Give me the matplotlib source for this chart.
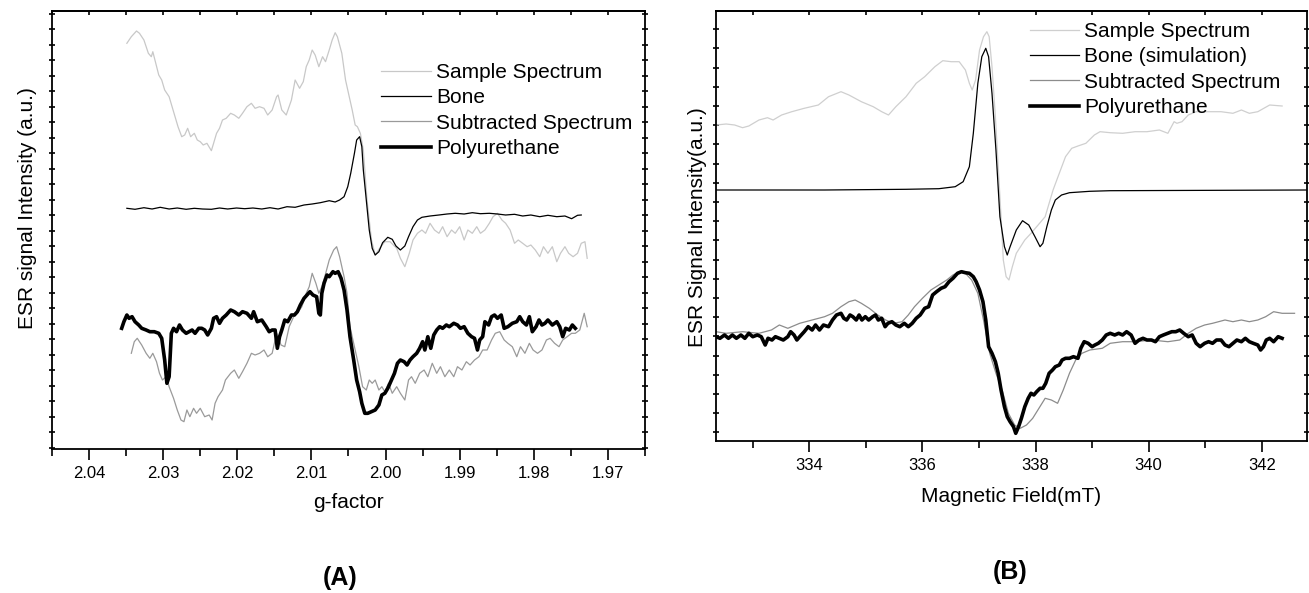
import matplotlib
matplotlib.use("Agg")
import matplotlib.pyplot as plt
from matplotlib.ticker import MultipleLocator, NullFormatter

plt.rcParams['font.family'] = ['Liberation Sans', 'DejaVu Sans']

# ---------------- Panel A : g-factor axis ----------------
g_sample = [2.0349, 2.0343, 2.0336, 2.0332, 2.0326, 2.0320, 2.0316, 2.0314, 2.0310, 2.0306,
            2.0302, 2.0298, 2.0292, 2.0288, 2.0284, 2.0280, 2.0275, 2.0271, 2.0267, 2.0263,
            2.0258, 2.0254, 2.0250, 2.0246, 2.0241, 2.0235, 2.0232, 2.0228, 2.0224, 2.0220,
            2.0215, 2.0209, 2.0204, 2.0198, 2.0193, 2.0187, 2.0181, 2.0176, 2.0170, 2.0164,
            2.0159, 2.0153, 2.0147, 2.0145, 2.0140, 2.0134, 2.0127, 2.0122, 2.0116, 2.0111,
            2.0107, 2.0103, 2.0099, 2.0095, 2.0090, 2.0085, 2.0081, 2.0076, 2.0072, 2.0068,
            2.0065, 2.0059, 2.0054, 2.0049, 2.0045, 2.0041, 2.0038, 2.0034, 2.0030, 2.0025,
            2.0019, 2.0014, 2.0008, 2.0001, 1.9994, 1.9985, 1.9980, 1.9974, 1.9968, 1.9963,
            1.9957, 1.9951, 1.9946, 1.9940, 1.9934, 1.9928, 1.9923, 1.9917, 1.9911, 1.9906,
            1.9900, 1.9894, 1.9889, 1.9883, 1.9877, 1.9872, 1.9866, 1.9860, 1.9855, 1.9849,
            1.9843, 1.9838, 1.9832, 1.9826, 1.9821, 1.9815, 1.9809, 1.9804, 1.9798, 1.9792,
            1.9787, 1.9781, 1.9775, 1.9769, 1.9764, 1.9758, 1.9753, 1.9747, 1.9741, 1.9736,
            1.9731, 1.9728]
i_sample = [405.7, 412.3, 418, 415.7, 409, 395.7, 392.3, 397.3, 385.7, 374,
            369, 359, 352.3, 342.3, 332.3, 322.3, 312.3, 314, 320.7, 312.3,
            315.7, 309, 307.3, 304, 305.7, 298.3, 305.7, 315.7, 320.7, 329,
            330.7, 335.7, 334, 330.7, 335.7, 342.3, 345.7, 340.7, 342.3, 340.7,
            334, 339, 352.3, 354, 339, 334, 349, 369, 360.7, 367.3,
            382.3, 389, 399, 394, 382.3, 392.3, 387.3, 399, 409, 416.3,
            412.3, 395.7, 369, 352.3, 339, 324, 322.3, 315.7, 299, 249,
            209, 194, 200.7, 207.3, 207.3, 200.7, 190.7, 182.3, 195.7, 209,
            215.7, 219, 215.7, 225.7, 219, 215.7, 222.3, 212.3, 219, 215.7,
            222.3, 209, 219, 215.7, 222.3, 215.7, 219, 225.7, 232.3, 235.7,
            229, 225.7, 219, 205.7, 209, 205.7, 202.3, 204, 199, 192.3,
            202.3, 195.7, 202.3, 187.3, 195.7, 202.3, 195.7, 192.3, 195.7, 205.7,
            207.3, 190.7]

g_bone = [2.0349, 2.0338, 2.0326, 2.0315, 2.0304, 2.0292, 2.0281, 2.0269, 2.0258, 2.0247,
          2.0235, 2.0224, 2.0213, 2.0201, 2.0190, 2.0179, 2.0167, 2.0156, 2.0145, 2.0133,
          2.0122, 2.0110, 2.0099, 2.0088, 2.0076, 2.0068, 2.0062, 2.0056, 2.0051, 2.0047,
          2.0042, 2.0039, 2.0035, 2.0032, 2.0030, 2.0026, 2.0022, 2.0018, 2.0014, 2.0009,
          2.0004, 1.9997, 1.9991, 1.9986, 1.9980, 1.9974, 1.9969, 1.9963, 1.9957, 1.9951,
          1.9940, 1.9928, 1.9917, 1.9906, 1.9894, 1.9883, 1.9872, 1.9860, 1.9849, 1.9838,
          1.9826, 1.9815, 1.9804, 1.9792, 1.9781, 1.9769, 1.9758, 1.9749, 1.9741, 1.9736]
i_bone = [240.7, 239.7, 241.3, 240, 241.7, 240, 241, 239.7, 240.7, 240,
          239.7, 241, 240, 241, 240.3, 241, 240, 241.3, 240, 242.3,
          241.7, 244, 245, 246.3, 248.3, 247, 249, 252.3, 262.3, 275.7,
          295.7, 309, 312.3, 302.3, 279, 249, 219, 200.7, 194, 197.3,
          206.3, 211.7, 209.7, 203, 199, 203, 212.3, 222.3, 229, 231.7,
          233, 234, 235, 235.7, 235, 236.3, 235.3, 235.7, 235, 234,
          234.7, 233, 234, 232.3, 233.7, 232.3, 233, 230.3, 233.7, 234]

g_subtr = [2.0343, 2.0339, 2.0335, 2.0329, 2.0323, 2.0318, 2.0314, 2.0309, 2.0305, 2.0301,
           2.0296, 2.0292, 2.0286, 2.0281, 2.0276, 2.0272, 2.0268, 2.0264, 2.0259, 2.0255,
           2.0250, 2.0244, 2.0238, 2.0234, 2.0230, 2.0226, 2.0220, 2.0216, 2.0209, 2.0204,
           2.0198, 2.0193, 2.0187, 2.0181, 2.0176, 2.0170, 2.0164, 2.0159, 2.0153, 2.0147,
           2.0141, 2.0136, 2.0130, 2.0124, 2.0119, 2.0113, 2.0107, 2.0103, 2.0099, 2.0094,
           2.0090, 2.0086, 2.0082, 2.0076, 2.0070, 2.0066, 2.0062, 2.0056, 2.0052, 2.0048,
           2.0042, 2.0036, 2.0031, 2.0026, 2.0022, 2.0018, 2.0014, 2.0009, 2.0005, 2.0001,
           1.9996, 1.9991, 1.9985, 1.9980, 1.9974, 1.9969, 1.9965, 1.9960, 1.9954, 1.9948,
           1.9943, 1.9937, 1.9931, 1.9926, 1.9920, 1.9914, 1.9908, 1.9903, 1.9897, 1.9891,
           1.9886, 1.9880, 1.9874, 1.9869, 1.9863, 1.9857, 1.9852, 1.9846, 1.9840, 1.9835,
           1.9829, 1.9823, 1.9818, 1.9812, 1.9806, 1.9801, 1.9795, 1.9789, 1.9783, 1.9778,
           1.9772, 1.9766, 1.9761, 1.9755, 1.9749, 1.9744, 1.9738, 1.9732, 1.9728]
i_subtr = [95.7, 107.3, 110.7, 104, 95.7, 90.7, 95.7, 87.3, 75.7, 69,
           72.3, 62.3, 50.7, 39, 29, 27.3, 39, 32.3, 40.7, 35.7,
           40.7, 32.3, 34, 29, 45.7, 52.3, 59, 69, 75.7, 79,
           70.7, 77.3, 85.7, 95.7, 94, 95.7, 99, 92.3, 95.7, 115.7,
           104, 102.3, 122.3, 132.3, 135.7, 142.3, 155.7, 162.3, 175.7, 165.7,
           155.7, 162.3, 172.3, 189, 199, 202.3, 192.3, 172.3, 155.7, 122.3,
           102.3, 82.3, 62.3, 59, 69, 65.7, 69, 59, 62.3, 57.3,
           65.7, 55.7, 62.3, 55.7, 49, 69, 72.3, 65.7, 75.7, 79,
           72.3, 85.7, 75.7, 82.3, 72.3, 79, 72.3, 82.3, 79, 87.3,
           84, 89, 92.3, 99, 99, 109, 115.7, 117.3, 109, 105.7,
           102.3, 92.3, 102.3, 95.7, 105.7, 99, 95.7, 99, 109, 110.7,
           105.7, 102.3, 109, 112.3, 115.7, 115.7, 119, 135.7, 122.3]

g_poly = [2.0356, 2.0353, 2.0349, 2.0346, 2.0342, 2.0338, 2.0333, 2.0329, 2.0323, 2.0318,
          2.0312, 2.0306, 2.0302, 2.0298, 2.0295, 2.0292, 2.0289, 2.0286, 2.0282, 2.0278,
          2.0274, 2.0269, 2.0265, 2.0261, 2.0257, 2.0252, 2.0248, 2.0244, 2.0240, 2.0235,
          2.0232, 2.0228, 2.0224, 2.0220, 2.0215, 2.0209, 2.0204, 2.0198, 2.0193, 2.0187,
          2.0181, 2.0178, 2.0173, 2.0167, 2.0161, 2.0157, 2.0153, 2.0149, 2.0146, 2.0143,
          2.0140, 2.0136, 2.0132, 2.0127, 2.0123, 2.0119, 2.0115, 2.0110, 2.0106, 2.0102,
          2.0098, 2.0093, 2.0090, 2.0088, 2.0086, 2.0083, 2.0079, 2.0076, 2.0071, 2.0068,
          2.0064, 2.0060, 2.0056, 2.0052, 2.0048, 2.0043, 2.0039, 2.0035, 2.0032, 2.0028,
          2.0024, 2.0019, 2.0014, 2.0009, 2.0005, 2.0001, 1.9997, 1.9992, 1.9988, 1.9984,
          1.9980, 1.9975, 1.9971, 1.9967, 1.9963, 1.9958, 1.9954, 1.9950, 1.9947, 1.9943,
          1.9939, 1.9935, 1.9931, 1.9927, 1.9923, 1.9918, 1.9914, 1.9908, 1.9903, 1.9899,
          1.9894, 1.9889, 1.9884, 1.9880, 1.9876, 1.9873, 1.9869, 1.9866, 1.9861, 1.9857,
          1.9853, 1.9849, 1.9844, 1.9840, 1.9835, 1.9829, 1.9823, 1.9819, 1.9815, 1.9810,
          1.9806, 1.9802, 1.9797, 1.9793, 1.9789, 1.9785, 1.9781, 1.9775, 1.9769, 1.9765,
          1.9761, 1.9757, 1.9752, 1.9748, 1.9744]
i_poly = [120.7, 127.3, 134, 130.7, 132.3, 127.3, 124, 120.7, 119, 117.3,
          117.3, 115.7, 110.7, 89, 65.7, 72.3, 115.7, 120.7, 117.3, 124,
          119, 115.7, 117.3, 119, 115.7, 120.7, 120.7, 119, 114, 120.7,
          130.7, 132.3, 125.7, 130.7, 134, 139, 137.3, 134, 137.3, 135.7,
          130.7, 137.3, 127.3, 129, 122.3, 117.3, 119, 119, 100.7, 112.3,
          119, 129, 127.3, 134, 134, 137.3, 144, 150.7, 154, 157.3,
          154, 152.3, 135.7, 134, 155.7, 165.7, 174, 172.3, 177.3, 175.7,
          177.3, 170.7, 159, 139, 112.3, 89, 69, 57.3, 45.7, 35.7,
          35.7, 37.3, 39, 44, 54, 55.7, 60.7, 69, 75.7, 85.7,
          89, 87.3, 84, 89, 92.3, 95.7, 100.7, 107.3, 99, 112.3,
          100.7, 114, 119, 122.3, 120.7, 124, 122.3, 125.7, 124, 120.7,
          122.3, 115.7, 112.3, 110.7, 99, 109, 112.3, 127.3, 124, 132.3,
          134, 130.7, 134, 120.7, 122.3, 125.7, 127.3, 132.3, 127.3, 124,
          132.3, 117.3, 122.3, 129, 124, 125.7, 129, 124, 127.3, 122.3,
          112.3, 120.7, 119, 124, 120.7]

# ---------------- Panel B : magnetic field axis ----------------
b_sample = [332.35, 332.53, 332.68, 332.82, 332.93, 333.11, 333.26, 333.36, 333.51, 333.69,
            333.91, 334.16, 334.34, 334.56, 334.70, 334.92, 335.13, 335.28, 335.40, 335.53,
            335.71, 335.89, 336.04, 336.22, 336.36, 336.51, 336.65, 336.76, 336.83, 336.88,
            336.94, 337.01, 337.08, 337.14, 337.18, 337.23, 337.29, 337.34, 337.39, 337.43,
            337.48, 337.53, 337.59, 337.66, 337.81, 337.92, 338.02, 338.17, 338.31, 338.42,
            338.53, 338.64, 338.75, 338.89, 339.04, 339.14, 339.32, 339.54, 339.76, 339.97,
            340.19, 340.34, 340.45, 340.50, 340.59, 340.70, 340.84, 341.06, 341.28, 341.49,
            341.64, 341.78, 341.93, 342.14, 342.36]
s_sample = [316, 317, 316, 313.3, 315, 321, 323.3, 321, 326, 329.3,
            332.7, 336, 344.3, 349.3, 346, 339.3, 334.3, 329.3, 326, 334.3,
            344.3, 357.7, 364.3, 374.3, 380.3, 379.3, 379.3, 371, 357.7, 351,
            361, 391, 404.3, 409.3, 404.3, 374.3, 324.3, 274.3, 224.3, 181,
            164.3, 161, 174.3, 187.7, 201, 207.7, 214.3, 224.3, 251, 267.7,
            284.3, 292.7, 295, 297.7, 306, 309.3, 308.3, 307.7, 309.3, 309.3,
            311, 307.7, 319.3, 317.7, 319.3, 326, 329.3, 329.3, 329.3, 327.7,
            331, 327.7, 329.3, 336, 335]

b_bone = [332.35, 334.27, 335.71, 336.29, 336.58, 336.72, 336.83, 336.90, 336.98, 337.05,
          337.12, 337.17, 337.23, 337.30, 337.37, 337.45, 337.50, 337.55, 337.66, 337.77,
          337.88, 337.99, 338.08, 338.13, 338.20, 338.28, 338.35, 338.46, 338.60, 338.96,
          339.32, 342.80]
s_bone = [251, 251, 251.7, 252.3, 254.3, 259.3, 274.3, 307.7, 357.7, 384.3,
          392.7, 384.3, 347.7, 291, 224.3, 194.3, 186, 194.3, 211, 220.3,
          216, 204.3, 194.3, 197.7, 214.3, 231, 241, 246, 248.3, 249.7,
          250.3, 251]

b_subtr = [332.35, 332.53, 332.82, 333.11, 333.33, 333.47, 333.62, 333.83, 334.05, 334.27,
           334.41, 334.56, 334.70, 334.81, 334.92, 335.06, 335.21, 335.35, 335.49, 335.64,
           335.75, 335.86, 336.00, 336.15, 336.29, 336.43, 336.54, 336.65, 336.76, 336.87,
           336.98, 337.08, 337.19, 337.30, 337.41, 337.52, 337.63, 337.73, 337.84, 337.95,
           338.06, 338.17, 338.28, 338.39, 338.49, 338.60, 338.71, 338.82, 338.96, 339.18,
           339.32, 339.54, 339.76, 340.05, 340.34, 340.55, 340.70, 340.84, 340.99, 341.13,
           341.35, 341.49, 341.64, 341.78, 341.93, 342.07, 342.21, 342.36, 342.58]
s_subtr = [109.3, 107.7, 109.3, 107.7, 111, 116, 112.7, 117.7, 121, 124.3,
           127.7, 134.3, 139.3, 141, 137.7, 132.7, 126, 121, 117.7, 119.3,
           126, 134.3, 142.7, 151, 156, 161, 166, 169.3, 167.7, 161,
           147.7, 121, 87.7, 67.7, 51, 27.7, 16, 12.7, 16, 22.7,
           32.7, 42.7, 41, 37.7, 51, 67.7, 81, 87.7, 91, 92.7,
           97.7, 99.3, 99.3, 101, 99.3, 101, 107.7, 112.7, 116, 117.7,
           121, 119.3, 121, 119.3, 121, 124.3, 129.3, 127.7, 127.7]

b_poly = [332.35, 332.42, 332.50, 332.57, 332.64, 332.71, 332.79, 332.86, 332.93, 333.00,
          333.08, 333.15, 333.22, 333.27, 333.34, 333.40, 333.47, 333.54, 333.62, 333.67,
          333.73, 333.78, 333.83, 333.91, 333.98, 334.05, 334.11, 334.18, 334.25, 334.34,
          334.41, 334.48, 334.56, 334.61, 334.66, 334.72, 334.77, 334.83, 334.88, 334.93,
          334.99, 335.05, 335.12, 335.17, 335.22, 335.28, 335.34, 335.39, 335.46, 335.53,
          335.60, 335.68, 335.75, 335.82, 335.89, 335.96, 336.04, 336.11, 336.18, 336.25,
          336.33, 336.40, 336.47, 336.54, 336.62, 336.69, 336.76, 336.83, 336.90, 336.95,
          337.01, 337.07, 337.12, 337.17, 337.23, 337.29, 337.34, 337.39, 337.45, 337.50,
          337.55, 337.61, 337.65, 337.70, 337.75, 337.81, 337.87, 337.92, 337.97, 338.02,
          338.08, 338.13, 338.18, 338.24, 338.30, 338.35, 338.42, 338.47, 338.53, 338.60,
          338.67, 338.75, 338.80, 338.86, 338.93, 339.00, 339.05, 339.11, 339.18, 339.25,
          339.32, 339.40, 339.47, 339.54, 339.61, 339.69, 339.76, 339.83, 339.90, 339.97,
          340.05, 340.12, 340.19, 340.26, 340.34, 340.41, 340.48, 340.55, 340.62, 340.70,
          340.77, 340.84, 340.91, 340.99, 341.06, 341.13, 341.20, 341.28, 341.35, 341.42,
          341.49, 341.56, 341.64, 341.71, 341.78, 341.85, 341.93, 341.98, 342.03, 342.08,
          342.14, 342.21, 342.29, 342.36]
s_poly = [104.3, 102.7, 106, 102.7, 106, 102.7, 106, 102.7, 107.7, 104.3,
          106, 104.3, 96, 102.7, 101, 104.3, 102.7, 101, 104.3, 109.3,
          106, 101, 104.3, 109.3, 114.3, 111, 116, 111, 116, 114.3,
          121, 126, 127.7, 122.7, 121, 126, 124.3, 121, 126, 121,
          124.3, 121, 124.3, 126, 121, 122.7, 114.3, 117.7, 119.3, 116,
          114.3, 117.7, 114.3, 117.7, 122.7, 126, 132.7, 134.3, 146, 149.3,
          152.7, 154.3, 159.3, 162.7, 167.7, 169.3, 168.3, 167.7, 164.3, 159.3,
          151, 139.3, 121, 94.3, 87.7, 79.3, 67.7, 51, 34.3, 24.3,
          19.3, 14.3, 7.7, 14.3, 22.7, 34.3, 42.7, 47.7, 46, 49.3,
          52.7, 52.7, 57.7, 67.7, 71, 74.3, 76, 81, 82.7, 82.7,
          84.3, 82.7, 92.7, 99.3, 97.7, 94.3, 96, 97.7, 101, 106,
          107.7, 106, 107.7, 106, 109.3, 106, 97.7, 101, 102.7, 101,
          101, 99.3, 104.3, 106, 107.7, 109.3, 109.3, 111, 107.7, 104.3,
          106, 97.7, 94.3, 97.7, 99.3, 97.7, 101, 101, 96, 94.3,
          97.7, 101, 99.3, 102.7, 99.3, 97.7, 96, 91, 94.3, 101,
          102.7, 99.3, 104.3, 102.7]

W, H = 1309, 593
fig = plt.figure(figsize=(W / 100, H / 100), dpi=100)

# axes boxes in pixels (left, top, right, bottom)
axA = fig.add_axes([52 / W, 1 - 449 / H, (645 - 52) / W, (449 - 11) / H])
axB = fig.add_axes([716 / W, 1 - 441 / H, (1307 - 716) / W, (441 - 11) / H])


def style_axes(ax, major, minor, ystep, y0):
    for sp in ax.spines.values():
        sp.set_linewidth(1.3)
    ax.xaxis.set_major_locator(MultipleLocator(major))
    ax.xaxis.set_minor_locator(MultipleLocator(minor))
    ax.tick_params(axis='x', which='major', direction='out', length=8, width=1.2,
                   labelsize=12, pad=4)
    ax.tick_params(axis='x', which='minor', direction='out', length=5, width=1.2)
    ax.yaxis.set_major_locator(MultipleLocator(ystep, offset=y0))
    ax.yaxis.set_major_formatter(NullFormatter())
    ax.tick_params(axis='y', which='major', direction='inout', length=4, width=1.2,
                   left=True, right=True)
    top = ax.secondary_xaxis('top')
    top.xaxis.set_major_locator(MultipleLocator(major))
    top.xaxis.set_minor_locator(MultipleLocator(minor))
    top.xaxis.set_major_formatter(NullFormatter())
    top.tick_params(which='both', direction='in', length=3, width=1.2)
    top.spines['top'].set_linewidth(1.3)


# ---- panel A
axA.plot(g_sample, i_sample, color='#c8c8c8', lw=0.9, label='Sample Spectrum')
axA.plot(g_subtr, i_subtr, color='#9a9a9a', lw=0.9, label='Subtracted Spectrum')
axA.plot(g_bone, i_bone, color='black', lw=0.9, label='Bone')
axA.plot(g_poly, i_poly, color='black', lw=2.6, label='Polyurethane')
axA.set_xlim(2.045, 1.965)
axA.set_ylim(0, 438)
style_axes(axA, 0.01, 0.005, 15.5, 1.2)
axA.xaxis.set_major_formatter(plt.FuncFormatter(lambda v, p: f"{v:.2f}"))
axA.set_xlabel('g-factor', fontsize=15, labelpad=9)
axA.set_ylabel('ESR signal Intensity (a.u.)', fontsize=15)
axA.yaxis.set_label_coords(-0.026, 0.55)
h, l = axA.get_legend_handles_labels()
order = [0, 2, 1, 3]
axA.legend([h[k] for k in order], [l[k] for k in order], loc='upper left',
           bbox_to_anchor=(0.555, 0.881), frameon=False, fontsize=15,
           handlelength=2.4, handletextpad=0.25, labelspacing=0.3, borderpad=0,
           borderaxespad=0)

# ---- panel B
axB.plot(b_sample, s_sample, color='#cfcfcf', lw=0.9, label='Sample Spectrum')
axB.plot(b_subtr, s_subtr, color='#8c8c8c', lw=0.9, label='Subtracted Spectrum')
axB.plot(b_bone, s_bone, color='black', lw=0.9, label='Bone (simulation)')
axB.plot(b_poly, s_poly, color='black', lw=2.6, label='Polyurethane')
axB.set_xlim(332.35, 342.8)
axB.set_ylim(0, 430)
style_axes(axB, 2, 1, 19.2, 8.7)
axB.set_xlabel('Magnetic Field(mT)', fontsize=15, labelpad=10)
axB.set_ylabel('ESR Signal Intensity(a.u.)', fontsize=15)
axB.yaxis.set_label_coords(-0.015, 0.498)
h, l = axB.get_legend_handles_labels()
axB.legend([h[k] for k in order], [l[k] for k in order], loc='upper left',
           bbox_to_anchor=(0.531, 0.974), frameon=False, fontsize=15,
           handlelength=2.35, handletextpad=0.25, labelspacing=0.3, borderpad=0,
           borderaxespad=0)

fig.text(340 / W, 1 - 578 / H, '(A)', fontsize=18, fontweight='bold', ha='center', va='center')
fig.text(1010 / W, 1 - 572 / H, '(B)', fontsize=18, fontweight='bold', ha='center', va='center')

fig.savefig('out.png', dpi=100)
